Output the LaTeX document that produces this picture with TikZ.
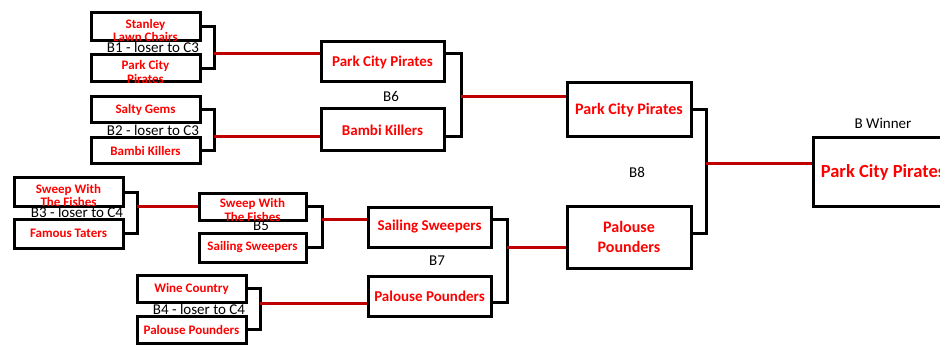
\documentclass[tikz,border=0pt]{standalone}
\usepackage{fontspec}
\setmainfont{Carlito}
\definecolor{teamred}{RGB}{255,0,0}
\definecolor{linkred}{RGB}{192,0,0}
\newcommand{\twoline}[2]{\raisebox{-1.5pt}[4pt][4pt]{\begin{tabular}[t]{@{}c@{}}#1\\#2\end{tabular}}}

\begin{document}
\begin{tikzpicture}[x=1pt,y=-1pt,line width=3pt,line join=miter,
                team/.style={draw,inner sep=0pt,text=teamred},
                small box/.style={team,minimum width=109pt,minimum height=27pt,font=\bfseries\fontsize{13}{13}\selectfont},
                mid box/.style={team,minimum width=123pt,minimum height=40pt,font=\bfseries\fontsize{15}{18}\selectfont},
                big box/.style={team,minimum width=124pt,font=\bfseries\fontsize{16}{20}\selectfont,align=center},
                game/.style={inner sep=0pt,font=\fontsize{15}{15}\selectfont},
                bracket/.style={draw=black},
                advance/.style={draw=linkred}]
  \useasboundingbox (0,0) rectangle (940,350);
  \clip (0,0) rectangle (940,350);

  % first round
  \node[small box,minimum height=28pt] (r1a) at (145.5,27) {\twoline{Stanley}{Lawn Chairs}};
  \node[small box] (r1b) at (145.5,68.5) {\twoline{Park City}{Pirates}};
  \node[small box,minimum height=26pt] (r2a) at (145.5,110) {Salty Gems};
  \node[small box,minimum height=26pt] (r2b) at (145.5,151) {Bambi Killers};
  \node[small box,minimum height=28pt] (r3a) at (68.5,192) {\twoline{Sweep With}{The Fishes}};
  \node[small box,minimum height=29pt] (r3b) at (68.5,233.5) {Famous Taters};
  \node[small box] (r4a) at (191.5,288.5) {Wine Country};
  \node[small box] (r4b) at (191.5,329.5) {Palouse Pounders};

  \node[game] at (153,47) {B1 - loser to C3};
  \node[game] at (153,130) {B2 - loser to C3};
  \node[game] at (77,212) {B3 - loser to C4};
  \node[game] at (199,309) {B4 - loser to C4};

  % B5
  \node[small box,minimum width=107pt] (q5a) at (252.5,206.5) {\twoline{Sweep With}{The Fishes}};
  \node[small box,minimum width=107pt,minimum height=29pt] (q5b) at (252.5,247.5) {Sailing Sweepers};
  \node[game] at (261,226) {B5};

  % B6 and B7
  \node[mid box] (s6a) at (382.5,62) {Park City Pirates};
  \node[mid box,minimum height=42pt] (s6b) at (382.5,130) {Bambi Killers};
  \node[game] at (391,96) {B6};
  \node[mid box] (s7a) at (429.5,227) {Sailing Sweepers};
  \node[mid box] (s7b) at (429.5,296) {Palouse Pounders};
  \node[game] at (437,261) {B7};

  % B8
  \node[big box,minimum height=54pt] (f8a) at (629,110) {Park City Pirates};
  \node[big box,minimum height=62pt] (f8b) at (629,237) {Palouse\\Pounders};
  \node[game] at (637,172) {B8};

  \node[big box,minimum width=140pt,minimum height=68pt,font=\bfseries\fontsize{18.5}{20}\selectfont] (win) at (883,172) {Park City Pirates};
  \node[game] at (883,123) {B Winner};

  % bracket joints
  \coordinate (j1) at (214,54);
  \coordinate (j2) at (214,137);
  \coordinate (j3) at (137,206);
  \coordinate (j4) at (260,303);
  \coordinate (j5) at (322,219);
  \coordinate (j6) at (461,97);
  \coordinate (j7) at (507,247);
  \coordinate (j8) at (706,164);

  \path[bracket]
    (r1a.east) -| (j1) |- (r1b.east)
    (r2a.east) -| (j2) |- (r2b.east)
    (r3a.east) -| (j3) |- (r3b.east)
    (r4a.east) -| (j4) |- (r4b.east)
    (q5a.east) -| (j5) |- (q5b.east)
    ([yshift=8pt]s6a.east) -| (j6) |- ([yshift=-7pt]s6b.east)
    ([yshift=8pt]s7a.east) -| (j7) |- ([yshift=-6pt]s7b.east)
    (f8a.east) -| (j8) |- ([yshift=4pt]f8b.east)
  ;

  \path[advance]
    (j1) edge (j1 -| s6a.west)
    (j2) edge (j2 -| s6b.west)
    (j3) edge (j3 -| q5a.west)
    (j4) edge (j4 -| s7b.west)
    (j5) edge (j5 -| s7a.west)
    (j6) edge (j6 -| f8a.west)
    (j7) edge (j7 -| f8b.west)
    (j8) edge (j8 -| win.west)
  ;
\end{tikzpicture}
\end{document}
